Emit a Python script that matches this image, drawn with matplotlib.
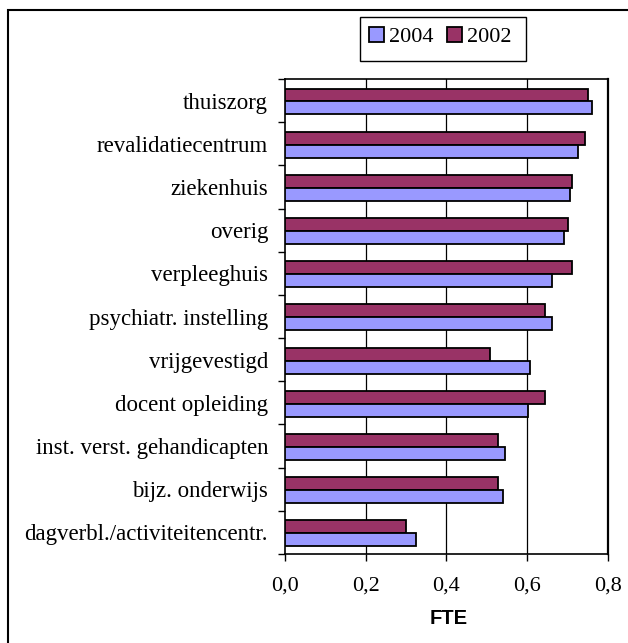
import matplotlib
matplotlib.use("Agg")
import matplotlib.pyplot as plt
from matplotlib.patches import Rectangle, Patch
import numpy as np

categories = ["thuiszorg", "revalidatiecentrum", "ziekenhuis", "overig", "verpleeghuis",
              "psychiatr. instelling", "vrijgevestigd", "docent opleiding",
              "inst. verst. gehandicapten", "bijz. onderwijs", "dagverbl./activiteitencentr."]
fte_2004 = [0.761, 0.727, 0.707, 0.692, 0.662, 0.662, 0.607, 0.603, 0.544, 0.539, 0.326]
fte_2002 = [0.751, 0.742, 0.712, 0.702, 0.712, 0.643, 0.508, 0.643, 0.529, 0.529, 0.301]
xticks = [0.0, 0.2, 0.4, 0.6, 0.8]
xticklabels = ["0,0", "0,2", "0,4", "0,6", "0,8"]

c2004 = "#9999FF"
c2002 = "#993366"
serif = "Liberation Serif"

fig = plt.figure(figsize=(6.28, 6.43), dpi=100)
W, H = 628, 643
ax = fig.add_axes([284.7 / W, 1 - 554 / H, (608 - 284.7) / W, (554 - 79) / H])

n = len(categories)
y = np.arange(n)
bh = 0.3
off = 0.02
ax.barh(y - bh / 2 + off, fte_2002, height=bh, color=c2002, edgecolor="black", linewidth=1.3, zorder=3)
ax.barh(y + bh / 2 + off, fte_2004, height=bh, color=c2004, edgecolor="black", linewidth=1.3, zorder=3)

ax.set_ylim(n - 0.5, -0.5)
ax.set_xlim(0, 0.8)
ax.set_yticks(y)
ax.set_yticklabels(categories, fontfamily=serif, fontsize=16.5)
ax.tick_params(axis="y", which="major", length=0, pad=12)
ax.set_yticks(np.arange(n + 1) - 0.5, minor=True)
ax.tick_params(axis="y", which="minor", length=5, width=1, direction="out")
ax.set_xticks(xticks)
ax.set_xticklabels(xticklabels, fontfamily=serif, fontsize=16)
ax.tick_params(axis="x", length=5, width=1, direction="out", pad=11.5)
for xv in xticks[1:-1]:
    ax.axvline(xv, color="black", linewidth=0.9, zorder=1)
for s in ax.spines.values():
    s.set_linewidth(1.2)
    s.set_color("black")
ax.spines["right"].set_linewidth(1.6)
fig.text(448.5 / W, 1 - 618.5 / H, "FTE", fontfamily="Liberation Sans", fontweight="bold",
         fontsize=14.5, ha="center", va="center")

# outer chart border
fig.patches.append(Rectangle((8 / W, -0.1), 1.2, 1 - 10 / H + 0.1, transform=fig.transFigure,
                             fill=False, edgecolor="black", linewidth=1.5))
# legend frame
fig.patches.append(Rectangle((360 / W, 1 - 61 / H), (526 - 360) / W, 44 / H, transform=fig.transFigure,
                             fill=False, edgecolor="black", linewidth=1.0))
handles = [Patch(facecolor=c2004, edgecolor="black", linewidth=1.3, label="2004"),
           Patch(facecolor=c2002, edgecolor="black", linewidth=1.3, label="2002")]
fig.legend(handles=handles, loc="center", bbox_to_anchor=(440 / W, 1 - 37 / H), ncol=2,
           frameon=False, prop={"family": serif, "size": 16}, handlelength=0.68, handleheight=0.68,
           handletextpad=0.23, columnspacing=0.6, borderaxespad=0, borderpad=0)

fig.savefig("out.png", dpi=100)
